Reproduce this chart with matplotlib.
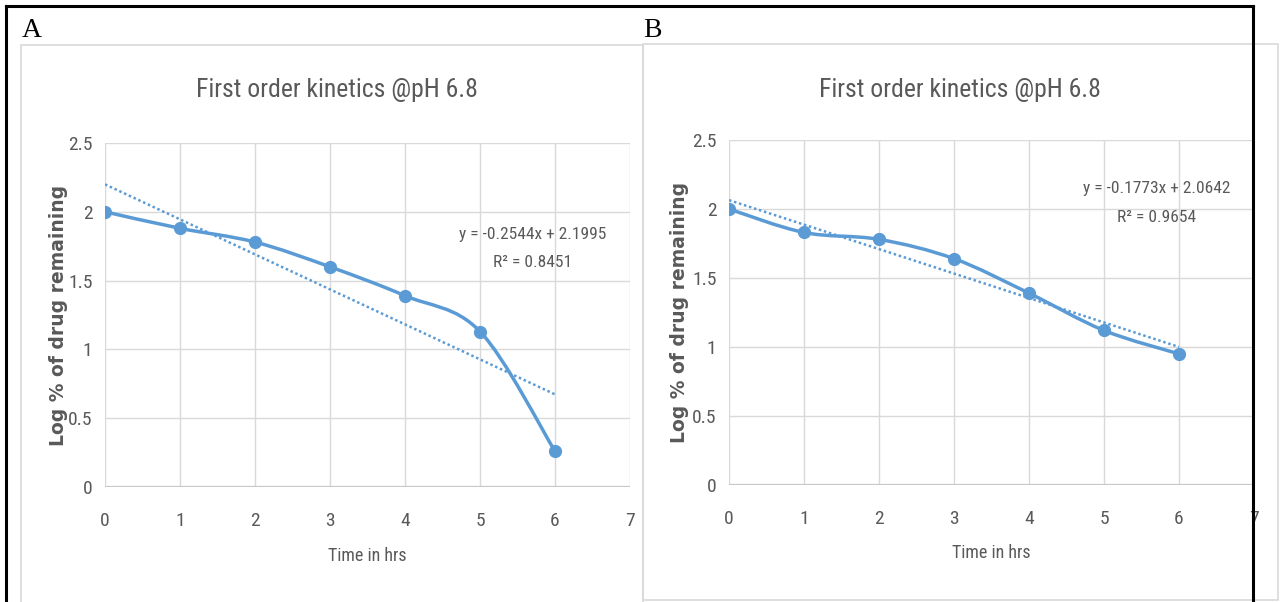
import numpy as np
import matplotlib
matplotlib.use("Agg")
import matplotlib.pyplot as plt
from matplotlib.path import Path
from matplotlib.patches import PathPatch, Rectangle
from matplotlib.lines import Line2D
from matplotlib import font_manager as fm

# ---- data -------------------------------------------------------------
time_hrs = [0, 1, 2, 3, 4, 5, 6]
log_remaining_a = [2.00, 1.88, 1.78, 1.60, 1.39, 1.13, 0.26]
log_remaining_b = [2.00, 1.83, 1.78, 1.64, 1.39, 1.12, 0.95]

# linear trendlines (slope, intercept, R^2)
fit_a = (-0.2544, 2.1995, 0.8451)
fit_b = (-0.1773, 2.0642, 0.9654)

x_ticks = [0, 1, 2, 3, 4, 5, 6, 7]
y_ticks = [0, 0.5, 1, 1.5, 2, 2.5]
y_tick_labels = ["0", "0.5", "1", "1.5", "2", "2.5"]

title_text = "First order kinetics @pH 6.8"
x_label = "Time in hrs"
y_label = "Log % of drug remaining"
panel_labels = ["A", "B"]

# ---- fonts ------------------------------------------------------------
available = {f.name for f in fm.fontManager.ttflist}


def pick(*names):
    for n in names:
        if n in available:
            return n
    return "DejaVu Sans"


NARROW = pick("Liberation Sans Narrow", "Roboto Condensed", "Open Sans Condensed", "Liberation Sans")
SERIF = pick("Liberation Serif", "DejaVu Serif")

BLUE = "#5B9BD5"
GRID = "#D9D9D9"
TEXT = "#595959"

W, H = 1286, 602
fig = plt.figure(figsize=(W / 100, H / 100), dpi=100)
fig.patch.set_facecolor("white")


def fx(px):
    return px / W


def fy(py):
    return 1 - py / H


def smooth_path(xs, ys):
    """Cubic Bezier path through the points (Catmull-Rom style smoothing)."""
    pts = np.column_stack([xs, ys]).astype(float)
    n = len(pts)
    verts = [pts[0]]
    codes = [Path.MOVETO]
    for i in range(n - 1):
        p0 = pts[i - 1] if i > 0 else pts[i]
        p1 = pts[i]
        p2 = pts[i + 1]
        p3 = pts[i + 2] if i + 2 < n else pts[i + 1]
        c1 = p1 + (p2 - p0) / 6.0
        c2 = p2 - (p3 - p1) / 6.0
        verts += [c1, c2, p2]
        codes += [Path.CURVE4] * 3
    return Path(verts, codes)


def panel(box, plot, values, fit, eq_center, title_cx, ylab_x, xlab_y):
    # outer chart border
    bx0, by0, bx1, by1 = box
    fig.add_artist(Rectangle((fx(bx0), fy(by1)), fx(bx1) - fx(bx0), fy(by0) - fy(by1),
                             transform=fig.transFigure, fill=False,
                             edgecolor=GRID, linewidth=1.2, zorder=1))

    px0, py0, px1, py1 = plot
    ax = fig.add_axes([fx(px0), fy(py1), fx(px1) - fx(px0), fy(py0) - fy(py1)])
    ax.set_xlim(0, 7)
    ax.set_ylim(0, 2.5)
    ax.set_facecolor("none")
    for s in ax.spines.values():
        s.set_visible(False)
    ax.set_xticks(x_ticks)
    ax.set_yticks(y_ticks)
    ax.set_yticklabels(y_tick_labels)
    ax.tick_params(length=0, colors=TEXT, labelsize=14, pad=0)
    ax.tick_params(axis="x", pad=18)
    ax.tick_params(axis="y", pad=9)
    for lab in ax.get_xticklabels() + ax.get_yticklabels():
        lab.set_fontfamily(NARROW)
    ax.grid(True, color=GRID, linewidth=1.0)
    ax.set_axisbelow(True)
    ax.axhline(0, color="#C8C8C8", linewidth=1.6, zorder=1)

    # smoothed data line with markers
    ax.add_patch(PathPatch(smooth_path(time_hrs, values), facecolor="none",
                           edgecolor=BLUE, linewidth=2.5, zorder=3,
                           capstyle="round", joinstyle="round"))
    ax.plot(time_hrs, values, linestyle="none", marker="o", markersize=8.5,
            color=BLUE, zorder=4)

    # dotted linear trendline
    slope, intercept, r2 = fit
    tx = np.array([time_hrs[0], time_hrs[-1]], dtype=float)
    ax.plot(tx, slope * tx + intercept, color=BLUE, linewidth=1.8,
            linestyle=(0, (1, 1.1)), dash_capstyle="butt", zorder=2)

    # trendline equation
    ex, ey = eq_center
    sign = "+" if intercept >= 0 else "-"
    fig.text(fx(ex), fy(ey), f"y = {slope:.4f}x {sign} {abs(intercept):.4f}",
             ha="center", va="center", fontsize=12.5, color=TEXT, family=NARROW)
    fig.text(fx(ex), fy(ey + 28), f"R\u00b2 = {r2:.4f}",
             ha="center", va="center", fontsize=12.5, color=TEXT, family=NARROW)

    # titles and axis labels
    fig.text(fx(title_cx), fy(90), title_text, ha="center", va="center",
             fontsize=18.5, color=TEXT, family=NARROW)
    fig.text(fx((px0 + px1) / 2), fy(xlab_y), x_label, ha="center", va="center",
             fontsize=13, color=TEXT, family=NARROW)
    fig.text(fx(ylab_x), fy((py0 + py1) / 2), y_label, ha="center", va="center",
             rotation=90, fontsize=13.5, color=TEXT, fontweight="bold",
             family="DejaVu Sans")
    return ax


panel(box=(21, 45, 643, 610), plot=(105, 143, 630, 487),
      values=log_remaining_a, fit=fit_a, eq_center=(533, 234),
      title_cx=337, ylab_x=58, xlab_y=556)
panel(box=(643, 44, 1278, 600), plot=(729, 140, 1254, 485),
      values=log_remaining_b, fit=fit_b, eq_center=(1157, 189),
      title_cx=960, ylab_x=680, xlab_y=553)

# panel letters
fig.text(fx(22), fy(37), panel_labels[0], ha="left", va="baseline",
         fontsize=20, color="black", family=SERIF)
fig.text(fx(643), fy(37), panel_labels[1], ha="left", va="baseline",
         fontsize=20, color="black", family=SERIF)

# black outer frame (open at the bottom)
frame_kw = dict(transform=fig.transFigure, color="black", linewidth=2.2,
                solid_capstyle="projecting", zorder=20)
fig.add_artist(Line2D([fx(5.7), fx(5.7)], [fy(6), fy(610)], **frame_kw))
fig.add_artist(Line2D([fx(5.7), fx(1253)], [fy(6), fy(6)], **frame_kw))
fig.add_artist(Line2D([fx(1253), fx(1253)], [fy(6), fy(610)], **frame_kw))

fig.savefig("out.png", dpi=100, facecolor="white")
